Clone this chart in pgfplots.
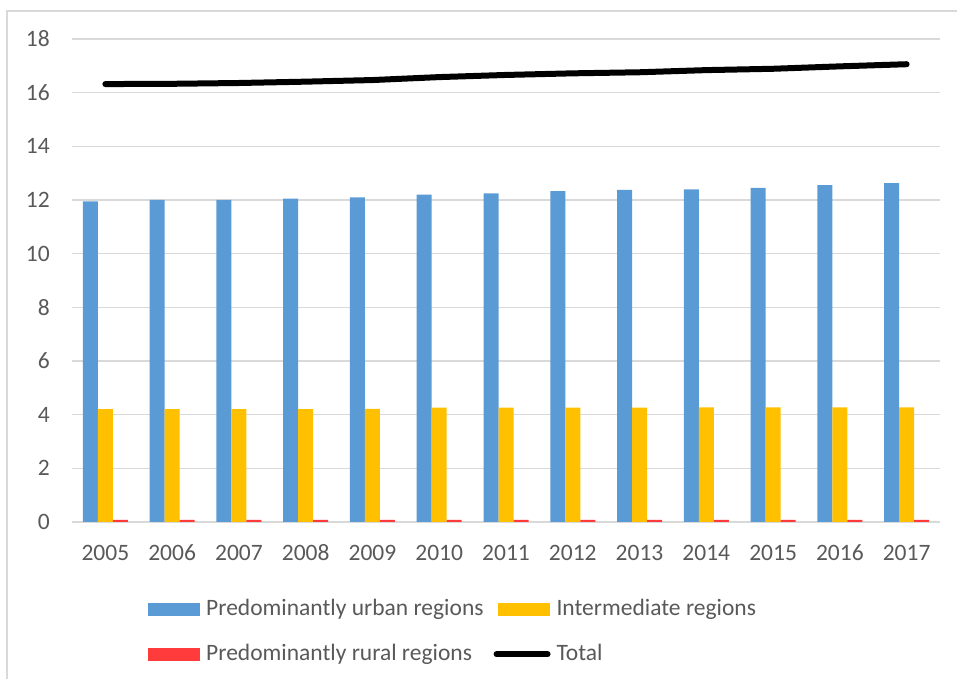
\documentclass[border=0pt]{standalone}
\usepackage{fontspec}
\setmainfont{Carlito}
\usepackage{pgfplots}
\pgfplotsset{compat=1.18}
\definecolor{cblue}{RGB}{91,155,213}
\definecolor{cyellow}{RGB}{255,192,0}
\definecolor{cred}{RGB}{255,59,59}
\definecolor{cgrid}{RGB}{217,217,217}
\definecolor{ctext}{RGB}{89,89,89}
\begin{document}
\fontsize{23.5pt}{28pt}\selectfont
\begin{tikzpicture}[x=1pt,y=1pt]
\useasboundingbox (0,0) rectangle (957,679);
\draw[cgrid,line width=1.5pt] (7,0) -- (7,668) -- (957,668);
\begin{axis}[
  at={(72pt,157pt)}, anchor=south west,
  scale only axis, width=868pt, height=483pt,
  xmin=-0.5, xmax=12.5, ymin=0, ymax=18,
  xtick={0,...,12},
  xticklabels={2005,2006,2007,2008,2009,2010,2011,2012,2013,2014,2015,2016,2017},
  ytick={0,2,...,18},
  ymajorgrids, major grid style={cgrid,line width=1.5pt},
  axis line style={draw=none}, tick style={draw=none},
  every tick label/.append style={font=\fontsize{23.5pt}{28pt}\selectfont, text=ctext, inner sep=0pt},
  xticklabel style={text height=15pt, text depth=0pt},
  /pgf/number format/assume math mode=true,
  yticklabel shift=22pt, xticklabel shift=19pt,
  ybar, bar width=15pt,
  legend columns=2,
  legend cell align=left,
  legend style={at={(axis description cs:0.0876,-0.160)}, anchor=north west, draw=none,
    inner sep=0pt, font=\fontsize{23.5pt}{28pt}\selectfont, text=ctext,
    row sep=25pt,
    nodes={inner sep=0pt},
    /tikz/every odd column/.append style={column sep=6pt},
    /tikz/every even column/.append style={column sep=10pt}},
]
\addplot[draw=none, fill=cblue, bar shift=-15pt,
  legend image code/.code={\fill[cblue] (0pt,-6.5pt) rectangle (52pt,6.5pt);}]
  coordinates {(0,11.95) (1,12.00) (2,12.00) (3,12.05) (4,12.10) (5,12.20) (6,12.25) (7,12.33) (8,12.38) (9,12.40) (10,12.45) (11,12.55) (12,12.63)};
\addlegendentry{Predominantly urban regions}
\addplot[draw=none, fill=cyellow, bar shift=0pt,
  legend image code/.code={\fill[cyellow] (0pt,-6.5pt) rectangle (52pt,6.5pt);}]
  coordinates {(0,4.21) (1,4.21) (2,4.21) (3,4.21) (4,4.22) (5,4.26) (6,4.26) (7,4.26) (8,4.26) (9,4.27) (10,4.27) (11,4.27) (12,4.27)};
\addlegendentry{Intermediate regions}
\addplot[draw=none, fill=cred, bar shift=15pt,
  legend image code/.code={\fill[cred] (0pt,-6.5pt) rectangle (52pt,6.5pt);}]
  coordinates {(0,0.08) (1,0.08) (2,0.08) (3,0.08) (4,0.08) (5,0.08) (6,0.08) (7,0.08) (8,0.08) (9,0.08) (10,0.08) (11,0.08) (12,0.08)};
\addlegendentry{Predominantly rural regions}
\addplot[sharp plot, black, line width=6pt, line cap=round,
  legend image code/.code={\draw[black,line width=6pt,line cap=round] (-1pt,0pt) -- (50pt,0pt);}]
  coordinates {(0,16.32) (1,16.33) (2,16.36) (3,16.41) (4,16.47) (5,16.58) (6,16.66) (7,16.72) (8,16.76) (9,16.84) (10,16.89) (11,16.98) (12,17.06)};
\addlegendentry{Total}
\end{axis}
\end{tikzpicture}
\end{document}
